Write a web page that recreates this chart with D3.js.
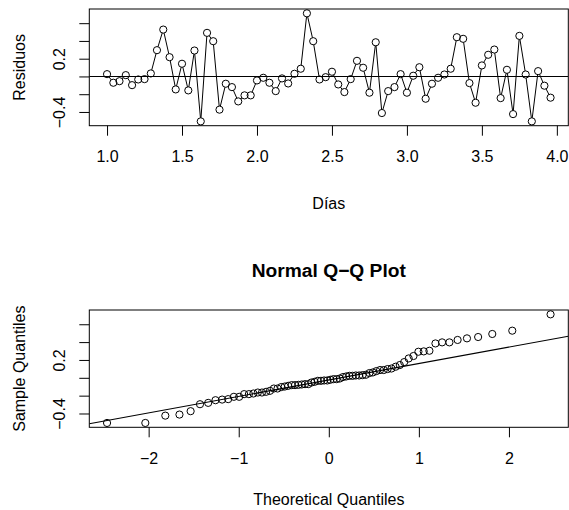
<!DOCTYPE html>
<html>
<head>
<meta charset="utf-8">
<script src="https://cdn.jsdelivr.net/npm/d3@7"></script>
<style>
  body { margin: 0; background: #fff; }
  text { font-family: "Liberation Sans", Arial, Helvetica, sans-serif; fill: #000; }
</style>
</head>
<body>
<svg id="chart" width="569" height="510"></svg>
<script>
// hourly residuals over three days
const dias = [
  1.000, 1.042, 1.083, 1.125, 1.167, 1.208, 1.250, 1.292, 1.333, 1.375, 1.417, 1.458,
  1.500, 1.542, 1.583, 1.625, 1.667, 1.708, 1.750, 1.792, 1.833, 1.875, 1.917, 1.958,
  2.000, 2.042, 2.083, 2.125, 2.167, 2.208, 2.250, 2.292, 2.333, 2.375, 2.417, 2.458,
  2.500, 2.542, 2.583, 2.625, 2.667, 2.708, 2.750, 2.792, 2.833, 2.875, 2.917, 2.958,
  3.000, 3.042, 3.083, 3.125, 3.167, 3.208, 3.250, 3.292, 3.333, 3.375, 3.417, 3.458,
  3.500, 3.542, 3.583, 3.625, 3.667, 3.708, 3.750, 3.792, 3.833, 3.875, 3.917, 3.958
];

const residuos = [
  0.026, -0.071, -0.053, 0.015, -0.098, -0.034, -0.030, 0.034, 0.296, 0.528, 0.217, -0.146,
  0.143, -0.157, 0.292, -0.506, 0.491, 0.397, -0.374, -0.082, -0.120, -0.281, -0.213, -0.213,
  -0.045, -0.015, -0.071, -0.165, -0.022, -0.079, 0.030, 0.087, 0.711, 0.397, -0.034, -0.008,
  0.053, -0.090, -0.176, -0.030, 0.176, 0.098, -0.183, 0.385, -0.412, -0.165, -0.120, 0.026,
  -0.183, 0.008, 0.104, -0.251, -0.082, -0.015, 0.022, 0.087, 0.442, 0.424, -0.075, -0.296,
  0.124, 0.244, 0.303, -0.244, 0.075, -0.424, 0.457, 0.022, -0.506, 0.060, -0.104, -0.239
];

// theoretical normal quantiles for n = 72 (upper half, lower half is mirrored)
const theoUpper = [
  0.017, 0.052, 0.087, 0.122, 0.157, 0.193, 0.228, 0.264, 0.300, 0.337, 0.375, 0.412,
  0.451, 0.489, 0.528, 0.569, 0.610, 0.653, 0.696, 0.742, 0.788, 0.837, 0.887, 0.940,
  0.995, 1.054, 1.117, 1.184, 1.258, 1.339, 1.430, 1.534, 1.658, 1.815, 2.037, 2.462
];
const quartileZ = [-0.674, 0.674];

const diasTicks = [1.0, 1.5, 2.0, 2.5, 3.0, 3.5, 4.0];
const resTicks = [-0.4, -0.2, 0.0, 0.2, 0.4, 0.6];
const resTickLabels = ["\u22120.4", "", "", "0.2", "", ""];
const qqXTicks = [-2, -1, 0, 1, 2];
const qqXTickLabels = ["\u22122", "\u22121", "0", "1", "2"];

const svg = d3.select("#chart");
const left = 89.3, right = 568.3;
const r = 3.6;

// R style 4% padding
function rPad(ext) {
  const d = (ext[1] - ext[0]) * 0.04;
  return [ext[0] - d, ext[1] + d];
}

function drawAxes(g, x, y, top, bottom, xt, xl, yt, yl) {
  g.append("g")
    .attr("transform", "translate(0," + bottom + ")")
    .call(d3.axisBottom(x).tickValues(xt).tickSize(10).tickFormat((d, i) => xl[i]))
    .call(a => a.select(".domain").remove())
    .call(a => a.selectAll("text").attr("y", 36.6).attr("dy", null)
      .style("font-size", "16px").style("font-family", null));

  g.append("g")
    .attr("transform", "translate(" + left + ",0)")
    .call(d3.axisLeft(y).tickValues(yt).tickSize(10).tickFormat((d, i) => yl[i]))
    .call(a => a.select(".domain").remove())
    .call(a => a.selectAll("text")
      .attr("transform", "rotate(-90)")
      .attr("x", 0).attr("y", -24.3).attr("dy", null)
      .attr("text-anchor", "middle")
      .style("font-size", "16px").style("font-family", null));

  g.selectAll(".tick line").attr("stroke", "#000");

  g.append("rect")
    .attr("x", left).attr("y", top)
    .attr("width", right - left).attr("height", bottom - top)
    .attr("fill", "none").attr("stroke", "#000").attr("stroke-width", 1);
}

// ---- top panel: residuos vs dias ----
const top1 = 9, bot1 = 125.7;
const x1 = d3.scaleLinear().domain(rPad(d3.extent(dias))).range([left, right]);
const y1 = d3.scaleLinear().domain(rPad(d3.extent(residuos))).range([bot1, top1]);

const p1 = svg.append("g");
svg.append("clipPath").attr("id", "clip1").append("rect")
  .attr("x", left).attr("y", top1).attr("width", right - left).attr("height", bot1 - top1);

p1.append("line")
  .attr("clip-path", "url(#clip1)")
  .attr("x1", left).attr("x2", right)
  .attr("y1", y1(0)).attr("y2", y1(0))
  .attr("stroke", "#000").attr("stroke-width", 1.1);

const pts = dias.map((d, i) => [x1(d), y1(residuos[i])]);
const segs = d3.pairs(pts).map(([a, b]) => {
  const dx = b[0] - a[0], dy = b[1] - a[1];
  const len = Math.hypot(dx, dy);
  const ux = dx / len, uy = dy / len;
  return [a[0] + ux * r, a[1] + uy * r, b[0] - ux * r, b[1] - uy * r, len];
}).filter(s => s[4] > 2 * r);

p1.selectAll(".seg")
  .data(segs)
  .enter().append("line")
  .attr("class", "seg")
  .attr("x1", d => d[0]).attr("y1", d => d[1])
  .attr("x2", d => d[2]).attr("y2", d => d[3])
  .attr("stroke", "#000").attr("stroke-width", 1);

p1.selectAll(".dot")
  .data(residuos)
  .enter().append("circle")
  .attr("class", "dot")
  .attr("cx", (d, i) => x1(dias[i]))
  .attr("cy", d => y1(d))
  .attr("r", r)
  .attr("fill", "none").attr("stroke", "#000").attr("stroke-width", 1);

drawAxes(p1, x1, y1, top1, bot1, diasTicks, diasTicks.map(d => d.toFixed(1)), resTicks, resTickLabels);

p1.append("text")
  .attr("x", (left + right) / 2).attr("y", 209)
  .attr("text-anchor", "middle").style("font-size", "16px")
  .text("Días");

p1.append("text")
  .attr("transform", "translate(25," + (top1 + bot1) / 2 + ") rotate(-90)")
  .attr("text-anchor", "middle").style("font-size", "16px")
  .text("Residuos");

// ---- bottom panel: normal Q-Q plot ----
const top2 = 310, bot2 = 427.3;
const theo = theoUpper.slice().reverse().map(d => -d).concat(theoUpper);
const sample = residuos.slice().sort(d3.ascending);

const x2 = d3.scaleLinear().domain(rPad(d3.extent(theo))).range([left, right]);
const y2 = d3.scaleLinear().domain(rPad(d3.extent(sample))).range([bot2, top2]);

const p2 = svg.append("g");
svg.append("clipPath").attr("id", "clip2").append("rect")
  .attr("x", left).attr("y", top2).attr("width", right - left).attr("height", bot2 - top2);

// qqline through the first and third quartiles
const q = [d3.quantile(sample, 0.25), d3.quantile(sample, 0.75)];
const slope = (q[1] - q[0]) / (quartileZ[1] - quartileZ[0]);
const icpt = q[0] - slope * quartileZ[0];
const xd = x2.domain();

p2.append("line")
  .attr("clip-path", "url(#clip2)")
  .attr("x1", x2(xd[0])).attr("y1", y2(icpt + slope * xd[0]))
  .attr("x2", x2(xd[1])).attr("y2", y2(icpt + slope * xd[1]))
  .attr("stroke", "#000").attr("stroke-width", 1.1);

p2.selectAll(".dot")
  .data(sample)
  .enter().append("circle")
  .attr("class", "dot")
  .attr("cx", (d, i) => x2(theo[i]))
  .attr("cy", d => y2(d))
  .attr("r", r)
  .attr("fill", "none").attr("stroke", "#000").attr("stroke-width", 1);

drawAxes(p2, x2, y2, top2, bot2, qqXTicks, qqXTickLabels, resTicks, resTickLabels);

p2.append("text")
  .attr("x", (left + right) / 2).attr("y", 277)
  .attr("text-anchor", "middle")
  .style("font-size", "19.2px").style("font-weight", "bold")
  .text("Normal Q\u2212Q Plot");

p2.append("text")
  .attr("x", (left + right) / 2).attr("y", 505)
  .attr("text-anchor", "middle").style("font-size", "16px")
  .text("Theoretical Quantiles");

p2.append("text")
  .attr("transform", "translate(25," + (top2 + bot2) / 2 + ") rotate(-90)")
  .attr("text-anchor", "middle").style("font-size", "16px")
  .text("Sample Quantiles");
</script>
</body>
</html>
